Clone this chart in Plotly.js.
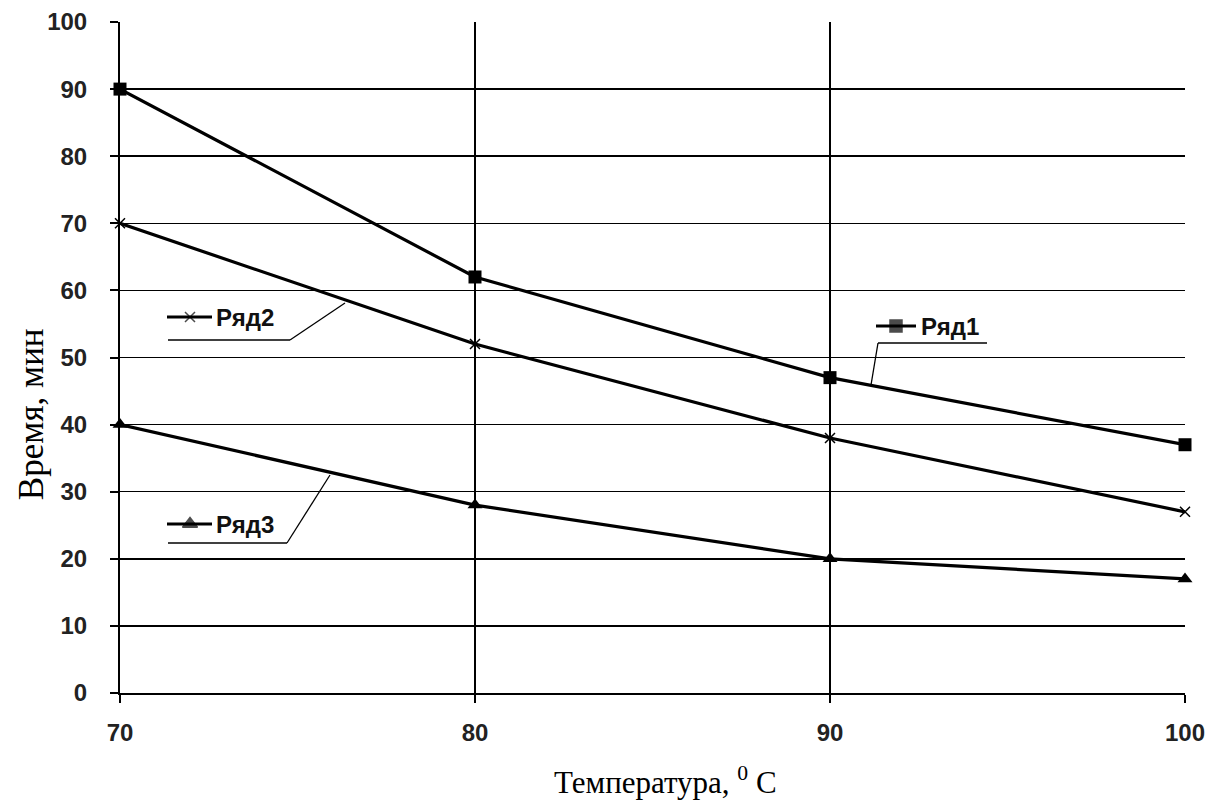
<!DOCTYPE html>
<html>
<head>
<meta charset="utf-8">
<script src="https://cdn.plot.ly/plotly-3.0.1.min.js"></script>
<style>html,body{margin:0;padding:0;background:#fff;}#chart{width:1210px;height:805px;}</style>
</head>
<body>
<div id="chart"></div>
<script>
const temperature = [70, 80, 90, 100];
const series1 = [90, 62, 47, 37];
const series2 = [70, 52, 38, 27];
const series3 = [40, 28, 20, 17];
const seriesNames = ["Ряд1", "Ряд2", "Ряд3"];
const xTicks = [70, 80, 90, 100];
const yTicks = [0, 10, 20, 30, 40, 50, 60, 70, 80, 90, 100];
const xTitle = 'Температура, <sup>0</sup> C';
const yTitle = 'Время, мин';

const lineStyle = {color: '#000', width: 3.2};
const traces = [
  {x: temperature, y: series1, name: seriesNames[0], mode: 'lines+markers', line: lineStyle,
   marker: {symbol: 'square', size: 13, color: '#000'}, cliponaxis: false},
  {x: temperature, y: series2, name: seriesNames[1], mode: 'lines+markers', line: lineStyle,
   marker: {symbol: 'x-thin', size: 10, color: '#000', line: {width: 1.5, color: '#000'}}, cliponaxis: false},
  {x: temperature, y: series3, name: seriesNames[2], mode: 'lines+markers', line: lineStyle,
   marker: {symbol: 'triangle-up', size: 13, color: '#000'}, cliponaxis: false}
];

// legend-key samples drawn on an overlay pixel axis
const keySamples = [
  {x: [876, 896, 916], y: [326, 326, 326], sym: 'square', size: 12},
  {x: [167, 190, 212], y: [317, 317, 317], sym: 'x-thin', size: 10},
  {x: [167, 190, 212], y: [524, 524, 524], sym: 'triangle-up', size: 13}
];
keySamples.forEach(k => {
  traces.push({x: k.x, y: k.y, xaxis: 'x2', yaxis: 'y2', mode: 'lines+markers', showlegend: false,
    hoverinfo: 'skip', cliponaxis: false, line: {color: '#000', width: 3.2},
    marker: {symbol: k.sym, size: [0, k.size, 0], color: '#000', line: {width: 1.5, color: '#000'}}});
});

const labelFont = {family: 'Liberation Sans, Arial, sans-serif', size: 24, color: '#111', weight: 'bold'};
const titleFont = {family: 'Liberation Serif, Times New Roman, serif', color: '#000'};
const annotations = [
  {xref: 'x2', yref: 'y2', x: 919, y: 326, text: '<b>' + seriesNames[0] + '</b>', showarrow: false, xanchor: 'left', font: labelFont},
  {xref: 'x2', yref: 'y2', x: 214, y: 317, text: '<b>' + seriesNames[1] + '</b>', showarrow: false, xanchor: 'left', font: labelFont},
  {xref: 'x2', yref: 'y2', x: 214, y: 524, text: '<b>' + seriesNames[2] + '</b>', showarrow: false, xanchor: 'left', font: labelFont},
  {xref: 'paper', yref: 'paper', x: -0.083, y: 0.415, xanchor: 'center', yanchor: 'middle', textangle: -90,
   text: yTitle, showarrow: false, font: Object.assign({size: 35}, titleFont)},
  {xref: 'paper', yref: 'paper', x: 0.512, y: -0.131, xanchor: 'center', yanchor: 'middle',
   text: xTitle, showarrow: false, font: Object.assign({size: 31}, titleFont)}
];

function seg(x0, y0, x1, y1, w) {
  return {type: 'line', xref: 'x2', yref: 'y2', x0: x0, y0: y0, x1: x1, y1: y1, line: {color: '#000', width: w || 1.3}};
}
const shapes = [
  seg(878, 343, 987, 343), seg(878, 343, 871, 385),
  seg(168, 340, 290, 340), seg(290, 340, 345, 303),
  seg(168, 543, 287, 543), seg(287, 543, 330, 475)
];

const tickFont = {family: 'Liberation Sans, Arial, sans-serif', size: 24, color: '#222', weight: 'bold'};
const layout = {
  width: 1210, height: 805,
  margin: {l: 120, r: 25, t: 22, b: 112},
  paper_bgcolor: '#fff', plot_bgcolor: '#fff',
  showlegend: false,
  xaxis: {
    range: [70, 100], tickvals: xTicks, ticktext: xTicks.map(String),
    showgrid: true, gridcolor: '#000', gridwidth: 1.5,
    showline: true, linecolor: '#000', linewidth: 2,
    ticks: 'outside', ticklen: 8, tickcolor: '#000', tickwidth: 2,
    tickfont: tickFont, ticklabelstandoff: 9, zeroline: false
  },
  yaxis: {
    range: [0, 100], tickvals: yTicks,
    showgrid: true, gridcolor: '#000', gridwidth: 1.5,
    showline: true, linecolor: '#000', linewidth: 2,
    ticks: 'outside', ticklen: 8, tickcolor: '#000', tickwidth: 2,
    tickfont: tickFont, ticklabelstandoff: 18, zeroline: false
  },
  xaxis2: {overlaying: 'x', range: [120, 1185], visible: false, fixedrange: true},
  yaxis2: {overlaying: 'y', range: [693, 22], visible: false, fixedrange: true},
  annotations: annotations,
  shapes: shapes
};

Plotly.newPlot('chart', traces, layout, {displayModeBar: false, staticPlot: true});
</script>
</body>
</html>
